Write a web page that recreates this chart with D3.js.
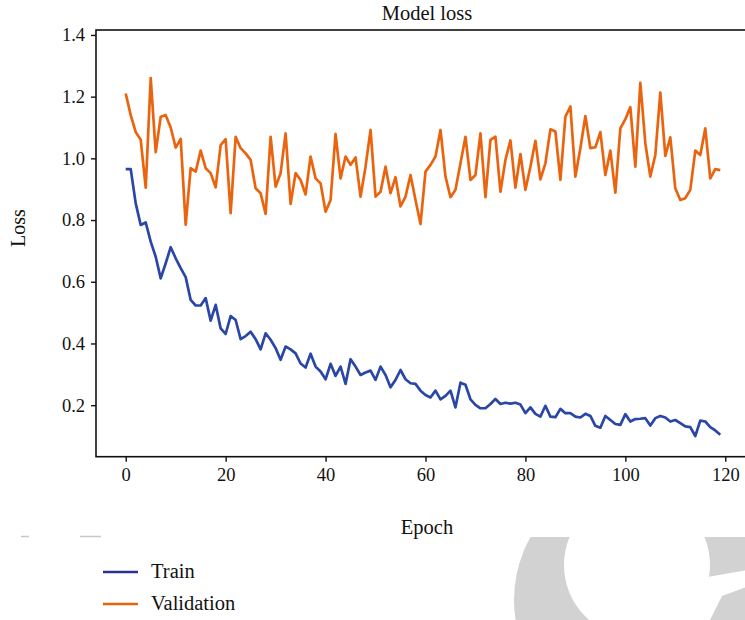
<!DOCTYPE html>
<html>
<head>
<meta charset="utf-8">
<script src="https://cdn.jsdelivr.net/npm/d3@7"></script>
<style>
  html, body { margin: 0; padding: 0; background: #fff; }
  svg { display: block; }
  text { font-family: "Liberation Serif", "DejaVu Serif", serif; fill: #111; }
</style>
</head>
<body>
<svg id="chart" width="745" height="620"></svg>
<script>
// ---- data ----
const epochs = d3.range(0, 120);
const trainLoss = [
  0.965, 0.965, 0.854, 0.784, 0.792, 0.730, 0.681, 0.611, 0.660, 0.712,
  0.676, 0.644, 0.615, 0.541, 0.523, 0.523, 0.547, 0.474, 0.525, 0.449,
  0.431, 0.489, 0.476, 0.414, 0.424, 0.438, 0.414, 0.381, 0.433, 0.412,
  0.385, 0.347, 0.390, 0.381, 0.368, 0.335, 0.322, 0.367, 0.325, 0.309,
  0.284, 0.334, 0.295, 0.325, 0.269, 0.349, 0.325, 0.298, 0.306, 0.312,
  0.282, 0.325, 0.298, 0.258, 0.282, 0.314, 0.284, 0.271, 0.269, 0.247,
  0.233, 0.225, 0.247, 0.219, 0.230, 0.247, 0.193, 0.273, 0.266, 0.219,
  0.201, 0.190, 0.190, 0.204, 0.220, 0.204, 0.208, 0.205, 0.208, 0.202,
  0.174, 0.193, 0.172, 0.163, 0.198, 0.163, 0.161, 0.188, 0.174, 0.174,
  0.163, 0.160, 0.172, 0.165, 0.133, 0.127, 0.165, 0.152, 0.139, 0.136,
  0.171, 0.147, 0.155, 0.156, 0.158, 0.134, 0.158, 0.165, 0.160, 0.147,
  0.152, 0.142, 0.131, 0.129, 0.100, 0.150, 0.147, 0.129, 0.118, 0.104
];
const valLoss = [
  1.210, 1.140, 1.085, 1.060, 0.905, 1.260, 1.020, 1.135, 1.140, 1.100,
  1.035, 1.063, 0.785, 0.968, 0.957, 1.025, 0.968, 0.952, 0.906, 1.043,
  1.062, 0.822, 1.070, 1.033, 1.016, 0.995, 0.903, 0.887, 0.820, 1.070,
  0.908, 0.952, 1.081, 0.852, 0.952, 0.930, 0.883, 1.006, 0.935, 0.919,
  0.827, 0.865, 1.079, 0.935, 1.006, 0.979, 1.003, 0.876, 0.973, 1.092,
  0.876, 0.892, 0.973, 0.887, 0.939, 0.844, 0.876, 0.946, 0.865, 0.787,
  0.957, 0.979, 1.006, 1.092, 0.941, 0.874, 0.898, 0.984, 1.070, 0.930,
  0.946, 1.081, 0.874, 1.060, 1.070, 0.892, 0.995, 1.058, 0.905, 1.014,
  0.898, 0.973, 1.057, 0.932, 0.984, 1.094, 1.087, 0.930, 1.135, 1.168,
  0.941, 1.033, 1.137, 1.033, 1.036, 1.085, 0.946, 1.025, 0.889, 1.097,
  1.127, 1.166, 0.973, 1.245, 1.049, 0.941, 1.011, 1.213, 1.008, 1.068,
  0.903, 0.865, 0.871, 0.898, 1.025, 1.011, 1.097, 0.935, 0.965, 0.962
];
const xTicks = [0, 20, 40, 60, 80, 100, 120];
const yTicks = [0.2, 0.4, 0.6, 0.8, 1.0, 1.2, 1.4];
const seriesNames = ["Train", "Validation"];
const seriesColors = ["#2a47a6", "#ea640f"];

// ---- layout ----
const svg = d3.select("#chart");
const pLeft = 96, pRight = 750, pTop = 30, pBottom = 456.7;

const x = d3.scaleLinear().domain([-5.95, 124.95]).range([pLeft, pRight]);
const y = d3.scaleLinear().domain([0.033, 1.416]).range([pBottom, pTop]);

// watermark decoration (light grey ring, bottom right)
const wm = svg.append("g");
wm.append("clipPath").attr("id", "wmclip")
  .append("rect").attr("x", 0).attr("y", 537).attr("width", 745).attr("height", 83);
const ring = wm.append("g").attr("clip-path", "url(#wmclip)");
ring.append("path")
  .attr("fill", "#d2d2d2")
  .attr("fill-rule", "evenodd")
  .attr("d", () => {
    const p = d3.path();
    p.moveTo(642 + 128, 600);
    p.arc(642, 600, 128, 0, 2 * Math.PI);
    p.closePath();
    p.moveTo(637 + 73, 565);
    p.arc(637, 565, 73, 0, 2 * Math.PI);
    p.closePath();
    return p.toString();
  });
ring.append("path")
  .attr("fill", "#fff")
  .attr("d", "M690,580 L760,568 L760,582 L722,596 L700,640 L680,640 Z");

// faint grey dashes at left
svg.append("line").attr("x1", 21).attr("x2", 29).attr("y1", 536.5).attr("y2", 536.5)
  .attr("stroke", "#c8c8c8").attr("stroke-width", 1.5);
svg.append("line").attr("x1", 80).attr("x2", 101).attr("y1", 536.5).attr("y2", 536.5)
  .attr("stroke", "#c8c8c8").attr("stroke-width", 1.5);

// frame
svg.append("rect")
  .attr("x", pLeft).attr("y", pTop)
  .attr("width", pRight - pLeft).attr("height", pBottom - pTop)
  .attr("fill", "none").attr("stroke", "#111").attr("stroke-width", 1.6);

// axes
const xAxis = d3.axisBottom(x).tickValues(xTicks).tickSize(5).tickPadding(6)
  .tickFormat(d3.format("d"));
const gx = svg.append("g").attr("transform", `translate(0,${pBottom})`).call(xAxis);
gx.select(".domain").remove();
gx.selectAll("line").attr("stroke", "#111").attr("stroke-width", 1.4);
gx.selectAll("text").style("font-size", "18.5px").style("font-family", "'Liberation Serif', serif").attr("fill", "#111");

const yAxis = d3.axisLeft(y).tickValues(yTicks).tickSize(5).tickPadding(6)
  .tickFormat(d3.format(".1f"));
const gy = svg.append("g").attr("transform", `translate(${pLeft},0)`).call(yAxis);
gy.select(".domain").remove();
gy.selectAll("line").attr("stroke", "#111").attr("stroke-width", 1.4);
gy.selectAll("text").style("font-size", "18.5px").style("font-family", "'Liberation Serif', serif").attr("fill", "#111");

// lines
const line = d3.line().x((d, i) => x(epochs[i])).y(d => y(d));
const plot = svg.append("g");
plot.append("path").datum(trainLoss)
  .attr("fill", "none").attr("stroke", seriesColors[0])
  .attr("stroke-width", 2.7).attr("stroke-linejoin", "round").attr("d", line);
plot.append("path").datum(valLoss)
  .attr("fill", "none").attr("stroke", seriesColors[1])
  .attr("stroke-width", 2.7).attr("stroke-linejoin", "round").attr("d", line);

// title & labels
svg.append("text").attr("x", 427).attr("y", 20).attr("text-anchor", "middle")
  .style("font-size", "20.5px").text("Model loss");
svg.append("text").attr("transform", "translate(25,228) rotate(-90)")
  .attr("text-anchor", "middle").style("font-size", "20px").text("Loss");
svg.append("text").attr("x", 427).attr("y", 534).attr("text-anchor", "middle")
  .style("font-size", "20.5px").text("Epoch");

// legend
const legend = svg.append("g");
seriesNames.forEach((name, i) => {
  const ly = 572 + i * 32;
  legend.append("line").attr("x1", 103).attr("x2", 138).attr("y1", ly).attr("y2", ly)
    .attr("stroke", i === 0 ? "#2b3192" : "#e8620c").attr("stroke-width", 2.7);
  legend.append("text").attr("x", 151).attr("y", ly + 6)
    .style("font-size", "20.5px").text(name);
});
</script>
</body>
</html>
